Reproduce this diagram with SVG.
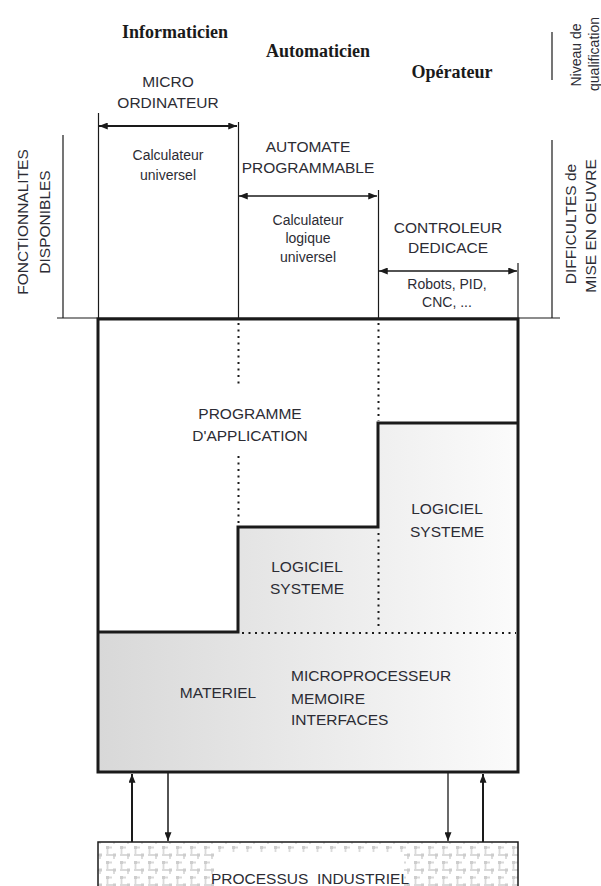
<svg xmlns="http://www.w3.org/2000/svg" width="601" height="886" viewBox="0 0 601 886">
<style>
.t{font-family:"Liberation Sans",Arial,sans-serif;font-size:15.5px;fill:#2c2c34;text-anchor:middle}
.s{font-family:"Liberation Sans",Arial,sans-serif;font-size:14px;fill:#2c2c34;text-anchor:middle}
.b{font-family:"Liberation Serif","Times New Roman",serif;font-size:18px;font-weight:bold;fill:#1a1a1a;text-anchor:middle}
.l{font-family:"Liberation Sans",Arial,sans-serif;font-size:15.5px;fill:#2c2c34;text-anchor:start}
.thin{stroke:#1a1a1a;stroke-width:1.2;fill:none}
.thick{stroke:#1a1a1a;stroke-width:3;fill:none}
.dot{stroke:#1a1a1a;stroke-width:2;stroke-dasharray:2 4.5;fill:none}
.arr{stroke:#1a1a1a;fill:none}
</style>
<defs>
<marker id="ah" viewBox="0 0 10 8" refX="10" refY="4" markerWidth="9" markerHeight="7" markerUnits="userSpaceOnUse" orient="auto-start-reverse">
<path d="M0,0 L10,4 L0,8 z" fill="#1a1a1a"/>
</marker>
<linearGradient id="g" gradientUnits="userSpaceOnUse" x1="98" y1="0" x2="518" y2="0">
<stop offset="0" stop-color="#d8d8d8"/>
<stop offset="1" stop-color="#fbfbfb"/>
</linearGradient>
<pattern id="maze" width="14" height="15" patternUnits="userSpaceOnUse" x="98" y="844">
<rect x="0" y="0" width="14" height="15" fill="#fff"/>
<path d="M8,3.5 h6 M9.5,4 v7 M0,11 h4 M8,11 h6 M2,11 v4" stroke="#dadada" stroke-width="1.8" fill="none"/>
<rect x="8" y="2" width="3" height="3" fill="#cdcdcd"/>
<rect x="1" y="9.5" width="3" height="3" fill="#cdcdcd"/>
</pattern>
</defs>
<rect width="601" height="886" fill="#fff"/>

<g id="roles">
<text class="b" x="175" y="38">Informaticien</text>
<text class="b" x="318" y="57">Automaticien</text>
<text class="b" x="452" y="78">Opérateur</text>
</g>

<g id="axis-qualification">
<line class="thin" x1="552" y1="32" x2="552" y2="80"/>
<text class="s" transform="translate(581,55) rotate(-90)">Niveau de</text>
<text class="s" transform="translate(599,54) rotate(-90)">qualification</text>
</g>

<g id="axis-fonctionnalites">
<line class="thin" x1="63" y1="135" x2="63" y2="318"/>
<text class="t" transform="translate(28,222) rotate(-90)">FONCTIONNALITES</text>
<text class="t" transform="translate(50,222) rotate(-90)">DISPONIBLES</text>
</g>

<g id="axis-difficultes">
<line class="thin" x1="552" y1="140" x2="552" y2="318"/>
<text class="t" transform="translate(576,224) rotate(-90)">DIFFICULTES de</text>
<text class="t" transform="translate(596,226) rotate(-90)">MISE EN OEUVRE</text>
</g>

<g id="baseline">
<line class="thin" x1="57" y1="318" x2="560" y2="318"/>
</g>

<g id="micro">
<text class="t" x="168" y="87">MICRO</text>
<text class="t" x="168" y="108">ORDINATEUR</text>
<line class="thin" x1="98.5" y1="113" x2="98.5" y2="318"/>
<line class="thin" x1="238.5" y1="122" x2="238.5" y2="318"/>
<text class="s" x="168" y="160">Calculateur</text>
<text class="s" x="168" y="180">universel</text>
</g>

<g id="automate">
<text class="t" x="308" y="152">AUTOMATE</text>
<text class="t" x="308" y="173">PROGRAMMABLE</text>
<line class="thin" x1="378.5" y1="190" x2="378.5" y2="318"/>
<text class="s" x="308" y="225">Calculateur</text>
<text class="s" x="308" y="243">logique</text>
<text class="s" x="308" y="262">universel</text>
</g>

<g id="controleur">
<text class="t" x="448" y="233">CONTROLEUR</text>
<text class="t" x="448" y="253">DEDICACE</text>
<line class="thin" x1="518" y1="263" x2="518" y2="318"/>
<text class="s" x="447" y="289">Robots, PID,</text>
<text class="s" x="447" y="307">CNC, ...</text>
</g>

<g id="main-box">
<rect x="98" y="632" width="420" height="140" fill="url(#g)"/>
<polygon points="238,632 238,527 378,527 378,423 518,423 518,632" fill="url(#g)"/>
<line class="dot" x1="238.5" y1="323" x2="238.5" y2="385"/>
<line class="dot" x1="238.5" y1="456" x2="238.5" y2="526"/>
<line class="dot" x1="378.5" y1="323" x2="378.5" y2="421"/>
<line class="dot" x1="378.5" y1="533" x2="378.5" y2="630"/>
<line class="dot" x1="242" y1="633" x2="516" y2="633"/>
<polyline class="thick" points="98,632 238,632 238,527 378,527 378,423 518,423"/>
<rect class="thick" x="98" y="319" width="420" height="453"/>
</g>

<g id="programme">
<text class="t" x="250" y="419">PROGRAMME</text>
<text class="t" x="250" y="441">D'APPLICATION</text>
</g>

<g id="logiciel-controleur">
<text class="t" x="447" y="514">LOGICIEL</text>
<text class="t" x="447" y="537">SYSTEME</text>
</g>

<g id="logiciel-automate">
<text class="t" x="307" y="572">LOGICIEL</text>
<text class="t" x="307" y="594">SYSTEME</text>
</g>

<g id="materiel">
<text class="t" x="218" y="698">MATERIEL</text>
<text class="l" x="291" y="681">MICROPROCESSEUR</text>
<text class="l" x="291" y="704">MEMOIRE</text>
<text class="l" x="291" y="725">INTERFACES</text>
</g>

<g id="processus">
<rect x="98" y="842" width="420" height="60" fill="url(#maze)" stroke="#1a1a1a" stroke-width="1.5"/>
<rect x="218" y="852" width="186" height="34" fill="#fff"/>
<text class="t" x="310" y="884" style="white-space:pre">PROCESSUS  INDUSTRIEL</text>
</g>

<g id="connectors">
<line class="arr" stroke-width="2" x1="99" y1="126" x2="237" y2="126" marker-start="url(#ah)" marker-end="url(#ah)"/>
<line class="arr" stroke-width="1.3" x1="239" y1="196" x2="377" y2="196" marker-start="url(#ah)" marker-end="url(#ah)"/>
<line class="arr" stroke-width="1.3" x1="379" y1="271" x2="517" y2="271" marker-start="url(#ah)" marker-end="url(#ah)"/>
<line class="arr" stroke-width="2" x1="132" y1="842" x2="132" y2="774" marker-end="url(#ah)"/>
<line class="arr" stroke-width="1.5" x1="168" y1="773" x2="168" y2="841" marker-end="url(#ah)"/>
<line class="arr" stroke-width="1.3" x1="448" y1="773" x2="448" y2="841" marker-end="url(#ah)"/>
<line class="arr" stroke-width="2" x1="483" y1="842" x2="483" y2="774" marker-end="url(#ah)"/>
</g>
</svg>
